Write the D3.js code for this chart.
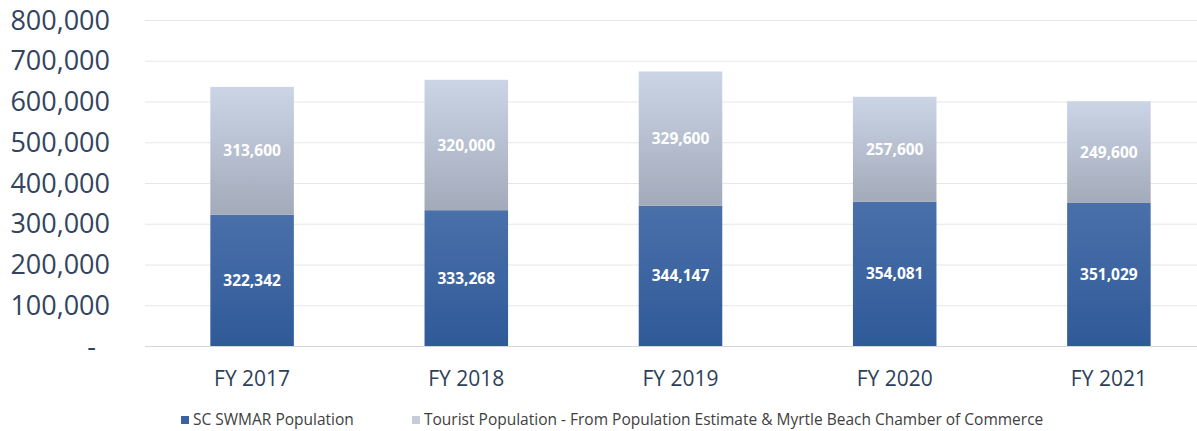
<!DOCTYPE html>
<html>
<head>
<meta charset="utf-8">
<script src="https://cdn.jsdelivr.net/npm/d3@7"></script>
<style>
  html, body { margin: 0; padding: 0; background: #fff; }
  svg { display: block; }
</style>
</head>
<body>
<svg id="chart" width="1197" height="431"></svg>
<script>
// Fiscal years and population series
const years = ["FY 2017", "FY 2018", "FY 2019", "FY 2020", "FY 2021"];
const residentPop = [322342, 333268, 344147, 354081, 351029];
const touristPop = [313600, 320000, 329600, 257600, 249600];
const yTicks = [0, 100000, 200000, 300000, 400000, 500000, 600000, 700000, 800000];
const seriesNames = ["SC SWMAR Population", "Tourist Population - From Population Estimate & Myrtle Beach Chamber of Commerce"];

const svg = d3.select("#chart");
const W = 1197, H = 431;
const font = "'Open Sans', 'Noto Sans', sans-serif";

const rows = years.map((y, i) => ({ year: y, resident: residentPop[i], tourist: touristPop[i] }));
const stack = d3.stack().keys(["resident", "tourist"])(rows);

const x = d3.scaleBand().domain(years).range([145, 1216]).paddingInner(0.61).paddingOuter(0.305);
const y = d3.scaleLinear().domain([0, 800000]).range([346, 20]);

// gradients for the two segments
const defs = svg.append("defs");
const gRes = defs.append("linearGradient").attr("id", "gRes").attr("x1", 0).attr("y1", 0).attr("x2", 0).attr("y2", 1);
gRes.append("stop").attr("offset", "0%").attr("stop-color", "#4a70aa");
gRes.append("stop").attr("offset", "100%").attr("stop-color", "#2f5a98");
const gTour = defs.append("linearGradient").attr("id", "gTour").attr("x1", 0).attr("y1", 0).attr("x2", 0).attr("y2", 1);
gTour.append("stop").attr("offset", "0%").attr("stop-color", "#cbd5e6");
gTour.append("stop").attr("offset", "100%").attr("stop-color", "#a3aaba");
const fills = ["url(#gRes)", "url(#gTour)"];

// horizontal gridlines
svg.append("g").selectAll("line").data(yTicks.slice(1)).join("line")
  .attr("x1", 145).attr("x2", W)
  .attr("y1", d => y(d) + 0.5).attr("y2", d => y(d) + 0.5)
  .attr("stroke", "#e6e6e6").attr("stroke-width", 1);

// y axis labels
const yAxis = d3.axisLeft(y).tickValues(yTicks)
  .tickFormat(d => d === 0 ? "-" : d3.format(",")(d)).tickSize(0).tickPadding(0);
const ya = svg.append("g").attr("transform", "translate(110,0)").call(yAxis);
ya.select(".domain").remove();
ya.selectAll("text")
  .attr("font-family", font).attr("font-size", 27).attr("fill", "#33445f")
  .attr("dy", "0.34em")
  .attr("dx", d => d === 0 ? -14 : 0);

// stacked bars
const layers = svg.append("g").selectAll("g").data(stack).join("g")
  .attr("fill", (d, i) => fills[i]);
layers.selectAll("rect").data(d => d).join("rect")
  .attr("x", d => x(d.data.year))
  .attr("width", x.bandwidth())
  .attr("y", d => y(d[1]))
  .attr("height", d => y(d[0]) - y(d[1]));

// value labels inside each segment
layers.selectAll("text").data(d => d).join("text")
  .attr("x", d => x(d.data.year) + x.bandwidth() / 2)
  .attr("y", d => (y(d[0]) + y(d[1])) / 2)
  .attr("dy", "0.36em")
  .attr("text-anchor", "middle")
  .attr("font-family", font).attr("font-weight", 700).attr("font-size", 15.5)
  .attr("fill", "#ffffff")
  .text(d => d3.format(",")(d[1] - d[0]));

// baseline
svg.append("line").attr("x1", 145).attr("x2", W)
  .attr("y1", y(0) + 0.5).attr("y2", y(0) + 0.5)
  .attr("stroke", "#d6d6d6");

// x axis labels
const xAxis = d3.axisBottom(x).tickSize(0).tickPadding(0);
const xa = svg.append("g").attr("transform", "translate(0,378)").call(xAxis);
xa.select(".domain").remove();
xa.selectAll("text").attr("font-family", font).attr("font-size", 21)
  .attr("fill", "#2e3f5a").attr("dy", "0.36em");

// legend
const legendX = [181, 412];
const lg = svg.append("g").selectAll("g").data(seriesNames).join("g")
  .attr("transform", (d, i) => `translate(${legendX[i]},420)`);
lg.append("rect").attr("x", 0).attr("y", -4).attr("width", 8).attr("height", 8)
  .attr("fill", (d, i) => i === 0 ? "#3a62a0" : "#c6ccd8");
lg.append("text").attr("x", 12).attr("dy", "0.35em")
  .attr("font-family", font).attr("font-size", 15.5).attr("fill", "#404040")
  .text(d => d);
</script>
</body>
</html>
